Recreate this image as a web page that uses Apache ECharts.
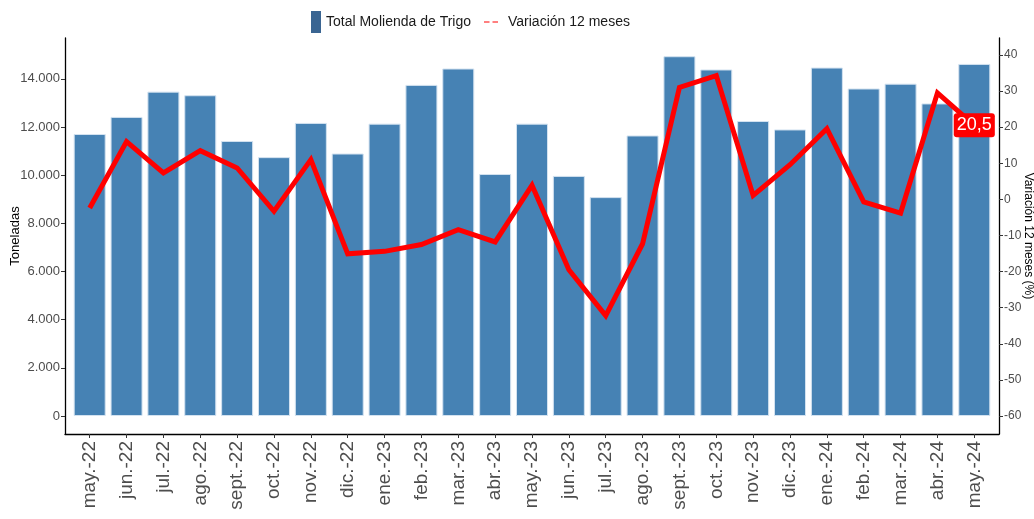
<!DOCTYPE html>
<html>
<head>
<meta charset="utf-8">
<script src="https://cdn.jsdelivr.net/npm/echarts@6/dist/echarts.min.js"></script>
<style>
  html, body { margin: 0; padding: 0; background: #fff; }
  #chart { width: 1034px; height: 519px; }
</style>
</head>
<body>
<div id="chart"></div>
<script>
// datos
const meses = ['may.-22', 'jun.-22', 'jul.-22', 'ago.-22', 'sept.-22', 'oct.-22', 'nov.-22', 'dic.-22',
  'ene.-23', 'feb.-23', 'mar.-23', 'abr.-23', 'may.-23', 'jun.-23', 'jul.-23', 'ago.-23', 'sept.-23',
  'oct.-23', 'nov.-23', 'dic.-23', 'ene.-24', 'feb.-24', 'mar.-24', 'abr.-24', 'may.-24']
const molienda = [11710, 12420, 13470, 13320, 11420, 10750, 12170, 10900, 12140, 13750, 14430, 10050,
  12140, 9970, 9090, 11650, 14940, 14390, 12250, 11900, 14470, 13600, 13800, 12980, 14620]
const variacion = [-2.4, 16.0, 7.3, 13.5, 8.7, -3.3, 11.0, -15.1, -14.4, -12.5, -8.4, -11.8,
  3.9, -19.5, -32.2, -12.3, 31.0, 34.3, 1.1, 9.6, 19.6, -0.7, -3.8, 29.5, 20.5]
const ticksToneladas = [0, 2000, 4000, 6000, 8000, 10000, 12000, 14000]
const ticksVariacion = [-60, -50, -40, -30, -20, -10, 0, 10, 20, 30, 40]

const SANS = '"Liberation Sans", Arial, sans-serif'
const ROJO = '#ff0000'

const miles = v => String(v).replace(/\B(?=(\d{3})+(?!\d))/g, '.')
const decimal = v => String(v).replace('.', ',')

const idx = meses.map((m, i) => i)
const last = variacion.length - 1

const chart = echarts.init(document.getElementById('chart'))

const option = {
  animation: false,
  grid: { left: 65, right: 35, top: 38, bottom: 85, containLabel: false, outerBoundsMode: 'none' },
  legend: [
    {
      left: 306, top: 6,
      itemWidth: 10, itemHeight: 22,
      icon: 'rect',
      data: [{ name: 'Total Molienda de Trigo', itemStyle: { color: '#3a6592', borderWidth: 0 } }],
      textStyle: { fontFamily: SANS, fontSize: 14, color: '#1a1a1a' }
    },
    {
      left: 479, top: 10,
      itemWidth: 14, itemHeight: 3,
      icon: 'path://M0,0h5.5v1h-5.5z M8.5,0h5.5v1h-5.5z',
      itemStyle: { color: ROJO, borderWidth: 0 },
      lineStyle: { color: ROJO },
      data: [{
        name: 'Variación 12 meses',
        itemStyle: { color: ROJO, borderWidth: 0 },
        lineStyle: { color: ROJO }
      }],
      textStyle: { fontFamily: SANS, fontSize: 14, color: '#1a1a1a', padding: [0, 0, 0, 5] }
    }
  ],
  xAxis: {
    type: 'value',
    min: -0.67,
    max: 24.67,
    splitLine: { show: false },
    axisLine: { show: true, onZero: false, lineStyle: { color: '#000', width: 1.3 } },
    axisTick: { show: true, customValues: idx, length: 4, lineStyle: { color: '#333' } },
    axisLabel: {
      customValues: idx,
      formatter: v => meses[Math.round(v)],
      rotate: 90,
      margin: 7,
      fontFamily: SANS,
      fontSize: 19,
      color: '#4d4d4d'
    }
  },
  yAxis: [
    {
      type: 'value',
      min: -747,
      max: 15697,
      name: 'Toneladas',
      nameLocation: 'middle',
      nameGap: 43,
      nameMoveOverlap: false,
      nameTextStyle: { fontFamily: SANS, fontSize: 13, color: '#000' },
      splitLine: { show: false },
      axisLine: { show: true, onZero: false, lineStyle: { color: '#000', width: 1.3 } },
      axisTick: { show: true, customValues: ticksToneladas, length: 4, lineStyle: { color: '#333' } },
      axisLabel: {
        customValues: ticksToneladas,
        formatter: miles,
        margin: 5,
        fontFamily: SANS,
        fontSize: 13,
        color: '#4d4d4d'
      }
    },
    {
      type: 'value',
      position: 'right',
      min: -65,
      max: 44.7,
      name: 'Variación 12 meses (%)',
      nameLocation: 'middle',
      nameRotate: -90,
      nameGap: 23,
      nameMoveOverlap: false,
      nameTextStyle: { fontFamily: SANS, fontSize: 12, color: '#000' },
      splitLine: { show: false },
      axisLine: { show: true, onZero: false, lineStyle: { color: '#000', width: 1.3 } },
      axisTick: { show: true, customValues: ticksVariacion, length: 4, lineStyle: { color: '#333' } },
      axisLabel: {
        customValues: ticksVariacion,
        margin: 5,
        fontFamily: SANS,
        fontSize: 12,
        color: '#4d4d4d'
      }
    }
  ],
  series: [
    {
      name: 'Total Molienda de Trigo',
      type: 'bar',
      yAxisIndex: 0,
      barWidth: 32,
      itemStyle: { color: '#4682b4', borderColor: '#d3e2f0', borderWidth: 1 },
      data: molienda.map((v, i) => [i, v])
    },
    {
      name: 'Variación 12 meses',
      type: 'line',
      yAxisIndex: 1,
      symbol: 'circle',
      symbolSize: 0.1,
      showAllSymbol: true,
      itemStyle: { color: ROJO },
      lineStyle: { color: ROJO, width: 5, join: 'miter' },
      data: variacion.map((v, i) => i === last ? {
        value: [i, v],
        label: {
          show: true,
          position: 'inside',
          formatter: p => decimal(p.value[1]),
          backgroundColor: ROJO,
          color: '#fff',
          fontFamily: SANS,
          fontSize: 18,
          padding: [4, 3, 2, 3],
          borderRadius: 3
        }
      } : [i, v])
    }
  ]
}

chart.setOption(option)
</script>
</body>
</html>
